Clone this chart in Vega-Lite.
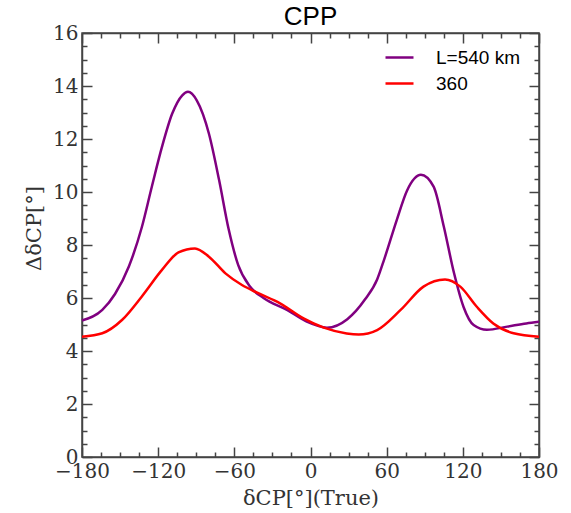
{
  "$schema": "https://vega.github.io/schema/vega-lite/v6.json",
  "width": 457,
  "height": 424,
  "padding": {"left": 23, "top": 4, "right": 5, "bottom": 0},
  "title": {"text": "CPP", "font": "Liberation Sans", "fontSize": 26, "fontWeight": "normal", "color": "#000", "offset": -7},
  "config": {
    "view": {"stroke": "#444", "strokeWidth": 1.5},
    "axis": {"grid": false, "domainColor": "#444", "domainWidth": 1.5, "tickColor": "#444", "tickWidth": 1.5, "labelFont": "DejaVu Serif", "labelFontSize": 20, "labelColor": "#333", "titleFont": "DejaVu Serif", "titleFontSize": 21, "titleFontWeight": "normal", "titleColor": "#333"}
  },
  "datasets": {
    "curves": [
      {"d": -180, "v": 5.15, "s": "L=540 km"},
      {"d": -164, "v": 5.55, "s": "L=540 km"},
      {"d": -154, "v": 6.15, "s": "L=540 km"},
      {"d": -143, "v": 7.2, "s": "L=540 km"},
      {"d": -133, "v": 8.65, "s": "L=540 km"},
      {"d": -125, "v": 10.2, "s": "L=540 km"},
      {"d": -117, "v": 11.7, "s": "L=540 km"},
      {"d": -109, "v": 12.95, "s": "L=540 km"},
      {"d": -101, "v": 13.65, "s": "L=540 km"},
      {"d": -96.5, "v": 13.78, "s": "L=540 km"},
      {"d": -89.5, "v": 13.45, "s": "L=540 km"},
      {"d": -80, "v": 12.2, "s": "L=540 km"},
      {"d": -72, "v": 10.45, "s": "L=540 km"},
      {"d": -64.5, "v": 8.6, "s": "L=540 km"},
      {"d": -57, "v": 7.25, "s": "L=540 km"},
      {"d": -48, "v": 6.45, "s": "L=540 km"},
      {"d": -37, "v": 6.0, "s": "L=540 km"},
      {"d": -18.5, "v": 5.55, "s": "L=540 km"},
      {"d": -3, "v": 5.11, "s": "L=540 km"},
      {"d": 13, "v": 4.88, "s": "L=540 km"},
      {"d": 29, "v": 5.2, "s": "L=540 km"},
      {"d": 43, "v": 5.95, "s": "L=540 km"},
      {"d": 52.5, "v": 6.7, "s": "L=540 km"},
      {"d": 58, "v": 7.45, "s": "L=540 km"},
      {"d": 68, "v": 8.95, "s": "L=540 km"},
      {"d": 76, "v": 10.05, "s": "L=540 km"},
      {"d": 87, "v": 10.65, "s": "L=540 km"},
      {"d": 97, "v": 10.2, "s": "L=540 km"},
      {"d": 105, "v": 8.7, "s": "L=540 km"},
      {"d": 113, "v": 6.95, "s": "L=540 km"},
      {"d": 120.5, "v": 5.67, "s": "L=540 km"},
      {"d": 128.5, "v": 4.98, "s": "L=540 km"},
      {"d": 139, "v": 4.8, "s": "L=540 km"},
      {"d": 155, "v": 4.92, "s": "L=540 km"},
      {"d": 170, "v": 5.04, "s": "L=540 km"},
      {"d": 180, "v": 5.1, "s": "L=540 km"},
      {"d": -180, "v": 4.54, "s": "360"},
      {"d": -164, "v": 4.67, "s": "360"},
      {"d": -148.5, "v": 5.17, "s": "360"},
      {"d": -133, "v": 6.05, "s": "360"},
      {"d": -117, "v": 7.06, "s": "360"},
      {"d": -104, "v": 7.72, "s": "360"},
      {"d": -91, "v": 7.87, "s": "360"},
      {"d": -80, "v": 7.56, "s": "360"},
      {"d": -67, "v": 6.93, "s": "360"},
      {"d": -54, "v": 6.49, "s": "360"},
      {"d": -42, "v": 6.2, "s": "360"},
      {"d": -24, "v": 5.8, "s": "360"},
      {"d": -5.5, "v": 5.23, "s": "360"},
      {"d": 10.5, "v": 4.88, "s": "360"},
      {"d": 28.5, "v": 4.66, "s": "360"},
      {"d": 38, "v": 4.62, "s": "360"},
      {"d": 52.5, "v": 4.79, "s": "360"},
      {"d": 71, "v": 5.55, "s": "360"},
      {"d": 89, "v": 6.43, "s": "360"},
      {"d": 106, "v": 6.7, "s": "360"},
      {"d": 118, "v": 6.43, "s": "360"},
      {"d": 131, "v": 5.67, "s": "360"},
      {"d": 144, "v": 5.04, "s": "360"},
      {"d": 160, "v": 4.67, "s": "360"},
      {"d": 180, "v": 4.54, "s": "360"}
    ]
  },
  "data": {"name": "curves"},
  "resolve": {"axis": {"x": "independent", "y": "independent"}},
  "layer": [
    {
      "mark": {"type": "line", "interpolate": "monotone", "strokeWidth": 2.5},
      "encoding": {
        "x": {"field": "d", "type": "quantitative", "scale": {"domain": [-180, 180], "nice": false},
          "axis": {"orient": "bottom", "title": "δCP[°](True)", "values": [-180,-165,-150,-135,-120,-105,-90,-75,-60,-45,-30,-15,0,15,30,45,60,75,90,105,120,135,150,165,180],
            "labelExpr": "datum.value % 60 === 0 ? format(datum.value, 'd') : ''",
            "tickSize": {"condition": {"test": "datum.value % 60 === 0", "value": -10}, "value": -5},
            "labelPadding": 14, "titlePadding": 1, "labelFlush": false, "labelOverlap": false}},
        "y": {"field": "v", "type": "quantitative", "scale": {"domain": [0, 16], "nice": false},
          "axis": {"orient": "left", "title": "ΔδCP[°]", "titleY": 195, "values": [0,0.5,1,1.5,2,2.5,3,3.5,4,4.5,5,5.5,6,6.5,7,7.5,8,8.5,9,9.5,10,10.5,11,11.5,12,12.5,13,13.5,14,14.5,15,15.5,16],
            "labelExpr": "datum.value % 2 === 0 ? format(datum.value, 'd') : ''",
            "tickSize": {"condition": {"test": "datum.value % 2 === 0", "value": -10}, "value": -5},
            "labelPadding": 14, "titlePadding": 8, "labelOverlap": false}},
        "color": {"field": "s", "type": "nominal", "sort": ["L=540 km", "360"],
          "scale": {"domain": ["L=540 km", "360"], "range": ["#800080", "#ff0000"]},
          "legend": {"title": null, "orient": "none", "legendX": 302, "legendY": 9, "symbolType": "stroke", "symbolStrokeWidth": 2.5, "symbolSize": 784, "labelFont": "Liberation Sans", "labelFontSize": 19, "labelColor": "#000", "rowPadding": 0, "labelOffset": 21}}
      }
    },
    {
      "mark": {"type": "point", "opacity": 0},
      "encoding": {
        "x": {"field": "d", "type": "quantitative", "scale": {"domain": [-180, 180], "nice": false},
          "axis": {"orient": "top", "title": null, "values": [-180,-165,-150,-135,-120,-105,-90,-75,-60,-45,-30,-15,0,15,30,45,60,75,90,105,120,135,150,165,180],
            "labels": false,
            "tickSize": {"condition": {"test": "datum.value % 60 === 0", "value": -10}, "value": -5}}},
        "y": {"field": "v", "type": "quantitative", "scale": {"domain": [0, 16], "nice": false},
          "axis": {"orient": "right", "title": null, "values": [0,0.5,1,1.5,2,2.5,3,3.5,4,4.5,5,5.5,6,6.5,7,7.5,8,8.5,9,9.5,10,10.5,11,11.5,12,12.5,13,13.5,14,14.5,15,15.5,16],
            "labels": false,
            "tickSize": {"condition": {"test": "datum.value % 2 === 0", "value": -10}, "value": -5}}}
      }
    }
  ]
}
